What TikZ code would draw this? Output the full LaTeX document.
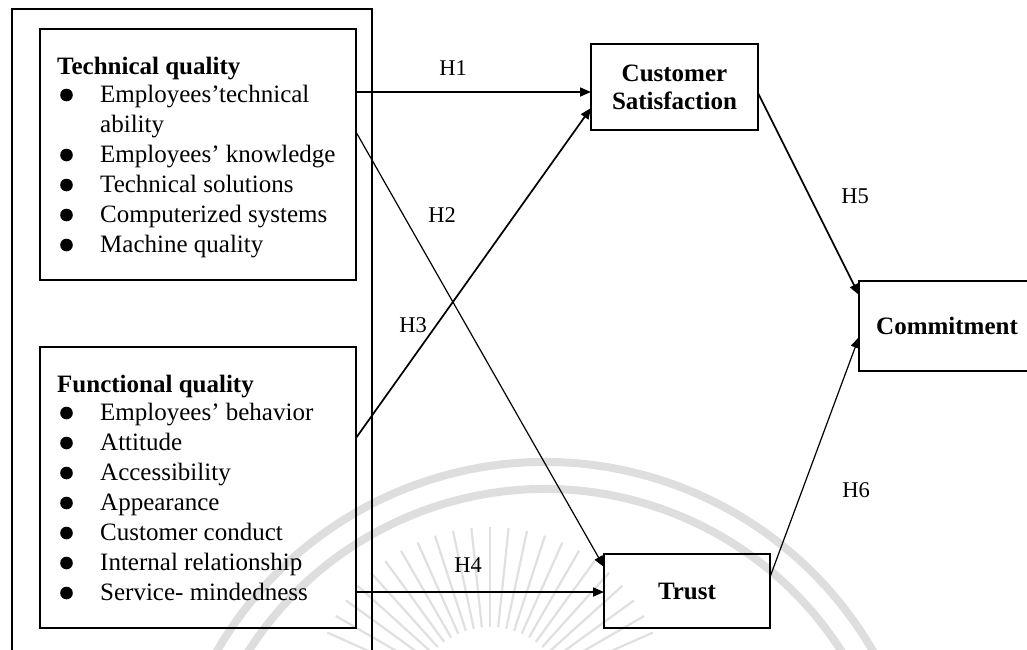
\documentclass[tikz,border=0pt]{standalone}
\usepackage{fontspec}
\setmainfont{Liberation Serif}
\usetikzlibrary{arrows.meta}

\tikzset{
  box/.style={draw=black, line width=1.8pt, inner sep=0pt, outer sep=0pt},
  boxtitle/.style={font=\fontsize{25}{28}\selectfont\bfseries, align=center},
  itemtext/.style={anchor=base west, inner sep=0pt, font=\fontsize{25}{30}\selectfont},
  headtext/.style={anchor=base west, inner sep=0pt, font=\fontsize{25}{30}\selectfont\bfseries},
  hyp/.style={anchor=base, inner sep=0pt, font=\fontsize{22.5}{27}\selectfont},
  link/.style={line width=1.7pt, -{Triangle[length=11pt,width=9pt]}},
  thinlink/.style={line width=1.2pt, -{Triangle[length=11pt,width=9pt]}},
  seal/.style={draw=gray!26, line width=8pt},
  ray/.style={draw=gray!24, line width=2.2pt},
}

\begin{document}
\begin{tikzpicture}[x=1pt, y=-1pt]
  \clip (0,0) rectangle (1027,649);
  \fill[white] (0,0) rectangle (1027,649);

  % faint seal in the background (y axis points down, so upward angles are negative)
  \draw[seal] (545,841) ++(-160:379) arc[start angle=-160, end angle=-20, radius=379];
  \draw[seal] (545,841) ++(-160:352) arc[start angle=-160, end angle=-20, radius=352];
  \foreach \a in {24,30,...,156}
    \draw[ray] (490,705) ++(-\a:78) -- ++(-\a:100);

  % frame around both quality blocks
  \node[box, anchor=north west, minimum width=360pt, minimum height=660pt] (outer) at (12,9) {};

  % technical quality block
  \node[box, minimum width=316pt, minimum height=251pt] (tech) at (198,154.5) {};
  \node[headtext] (techhead) at (57,74) {Technical quality};
  \foreach \y/\t [count=\i] in {102/Employees’technical, 162/Employees’ knowledge,
      192/Technical solutions, 222/Computerized systems, 252/Machine quality} {
    \fill (66.5,\y-7) circle (6.3pt);
    \node[itemtext] (techitem\i) at (100,\y) {\t};
  }
  \node[itemtext] (techcont) at (100,132) {ability};

  % functional quality block
  \node[box, minimum width=316pt, minimum height=281pt] (func) at (198,487.5) {};
  \node[headtext] (funchead) at (57,392) {Functional quality};
  \foreach \y/\t [count=\i] in {420/Employees’ behavior, 450/Attitude, 480/Accessibility,
      510/Appearance, 540/Customer conduct, 570/Internal relationship, 600/Service- mindedness} {
    \fill (66.5,\y-7) circle (6.3pt);
    \node[itemtext] (funcitem\i) at (100,\y) {\t};
  }

  % outcome constructs
  \node[box, boxtitle, minimum width=167pt, minimum height=86pt] (cs) at (674.5,87) {Customer\\Satisfaction};
  \node[box, boxtitle, minimum width=176pt, minimum height=90pt] (com) at (947,326) {Commitment};
  \node[box, boxtitle, minimum width=166pt, minimum height=74pt] (trust) at (687,591) {Trust};

  % hypothesised paths
  \draw[link] ([yshift=-63pt]tech.north east) -- ([yshift=-5pt]cs.west);
  \draw[thinlink] ([yshift=-103pt]tech.north east) -- ([yshift=24pt]trust.west);
  \draw[link] ([yshift=-91pt]func.north east) -- ([yshift=-21pt]cs.west);
  \draw[link] ([yshift=-245pt]func.north east) -- ([yshift=-1pt]trust.west);
  \draw[link] ([yshift=-6pt]cs.east) -- ([yshift=31pt]com.west);
  \draw[thinlink] ([yshift=14pt]trust.east) -- ([yshift=-11pt]com.west);

  \node[hyp] (h1) at (453,75) {H1};
  \node[hyp] (h2) at (442,222) {H2};
  \node[hyp] (h3) at (413,332) {H3};
  \node[hyp] (h4) at (468,572) {H4};
  \node[hyp] (h5) at (855,203) {H5};
  \node[hyp] (h6) at (856,497) {H6};
\end{tikzpicture}
\end{document}
